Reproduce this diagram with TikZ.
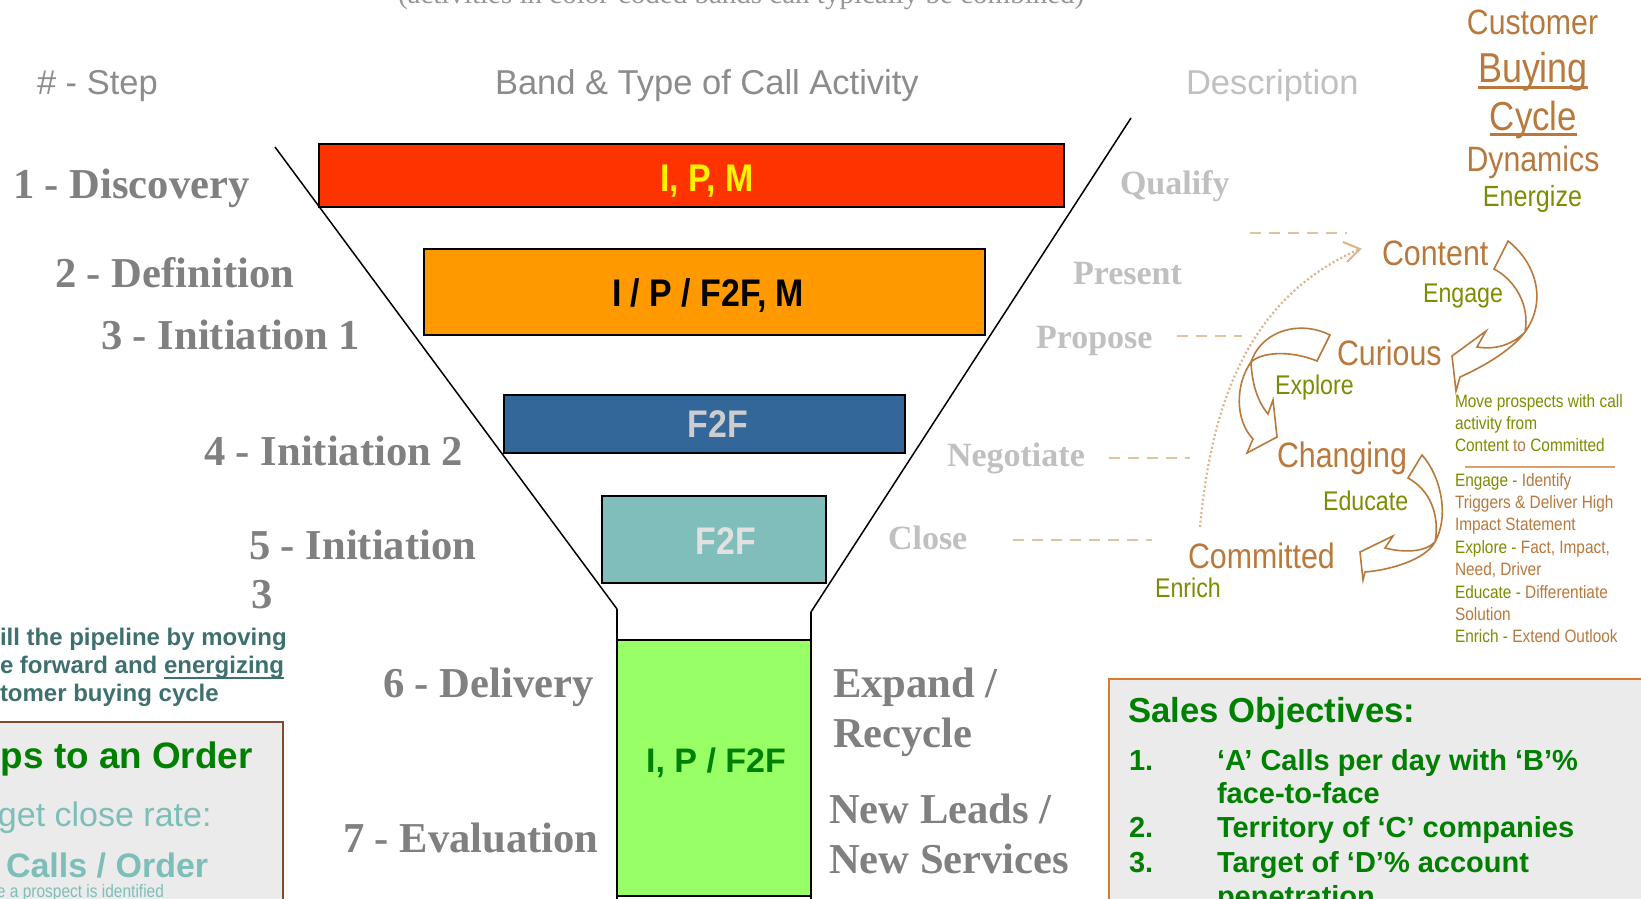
\documentclass[tikz,border=0pt]{standalone}
\usepackage{fontspec}
\setmainfont{Liberation Serif}
\newfontfamily\arial{Liberation Sans}
\newfontfamily\narrow[FakeStretch=0.86]{Liberation Sans}
\newfontfamily\barfont[FakeStretch=0.88]{Liberation Sans}
\newcommand\fsz[1]{\fontsize{#1}{#1}\selectfont}
\definecolor{stepgray}{RGB}{128,128,128}
\definecolor{descgray}{RGB}{192,192,192}
\definecolor{hdrgray}{RGB}{140,140,140}
\definecolor{topgray}{RGB}{150,150,150}
\definecolor{barred}{RGB}{255,51,0}
\definecolor{barorange}{RGB}{255,153,0}
\definecolor{barblue}{RGB}{51,102,153}
\definecolor{barteal}{RGB}{128,190,188}
\definecolor{bargreen}{RGB}{153,255,102}
\definecolor{f2fgray}{RGB}{205,205,205}
\definecolor{f2flight}{RGB}{225,225,225}
\definecolor{dkgreen}{RGB}{0,128,0}
\definecolor{cybrown}{RGB}{185,120,60}
\definecolor{cyolive}{RGB}{125,140,0}
\definecolor{tandash}{RGB}{222,196,160}
\definecolor{tandot}{RGB}{220,180,140}
\definecolor{seprule}{RGB}{215,160,110}
\definecolor{pipeteal}{RGB}{62,112,112}
\definecolor{boxteal}{RGB}{125,190,185}
\definecolor{boxgray}{RGB}{235,235,235}
\definecolor{boxbrown}{RGB}{125,75,45}
\definecolor{boxorange}{RGB}{215,125,50}
\tikzset{
  lbl/.style={inner sep=0pt, outer sep=0pt, anchor=base west},
  clbl/.style={inner sep=0pt, outer sep=0pt, anchor=base},
  steplbl/.style={lbl, font=\fsz{42.6}\bfseries, text=stepgray},
  desclbl/.style={lbl, font=\fsz{34}\bfseries, text=descgray},
  hdr/.style={lbl, font=\arial\fsz{34.5}},
  bandbox/.style={draw=black, line width=2pt, inner sep=0pt, outer sep=0pt, anchor=north west},
  bartxt/.style={clbl, font=\barfont\bfseries\fsz{38.5}},
  cytitle/.style={clbl, font=\narrow\fsz{35.2}, text=cybrown},
  cystate/.style={lbl, font=\narrow\fsz{35.3}, text=cybrown},
  cysub/.style={lbl, font=\narrow\fsz{27}, text=cyolive},
  note/.style={lbl, font=\narrow\fsz{17.9}, text=cybrown},
  tanline/.style={draw=tandash, line width=2pt, dash pattern=on 11pt off 8pt},
  cyarrow/.style={draw=cybrown, line width=1.6pt, fill=white, line join=miter},
  funnel/.style={draw=black, line width=1.5pt},
  funnelv/.style={draw=black, line width=2.8pt},
  pipe/.style={lbl, font=\arial\bfseries\fsz{24}, text=pipeteal},
  objtxt/.style={lbl, font=\arial\bfseries\fsz{29}, text=dkgreen},
}
\begin{document}
\begin{tikzpicture}[x=1pt,y=-1pt]
\clip (0,0) rectangle (1641,899);
\fill[white] (0,0) rectangle (1641,899);

% top cut-off note
\node[lbl, font=\fsz{29}, text=topgray] (combined) at (398,3.5) {(activities in color-coded bands can typically be combined)};

% headers
\node[hdr, text=hdrgray] (hstep) at (37,95) {\# - Step};
\node[hdr, text=hdrgray] (hband) at (495,95) {Band \& Type of Call Activity};
\node[hdr, text=descgray] (hdesc) at (1186,95) {Description};

% bands
\node[bandbox, fill=barred, minimum width=745pt, minimum height=63pt] (bred) at (319,144) {};
\node[bandbox, fill=barorange, minimum width=561pt, minimum height=86pt] (borange) at (424,249) {};
\node[bandbox, fill=barblue, minimum width=401pt, minimum height=58pt] (bblue) at (504,395) {};
\node[bandbox, fill=barteal, minimum width=224pt, minimum height=87pt] (bteal) at (602,496) {};
\node[bandbox, line width=1.2pt, fill=bargreen, minimum width=194pt, minimum height=256pt] (bgreen) at (617,640) {};

\node[bartxt, text=yellow] (tred) at (707,191) {I, P, M};
\node[bartxt, text=black] (torange) at (708,306.5) {I / P / F2F, M};
\node[bartxt, text=f2fgray] (tblue) at (718,437) {F2F};
\node[bartxt, text=f2flight] (tteal) at (726,554.5) {F2F};
\node[clbl, font=\arial\bfseries\fsz{34}, text=dkgreen] (tgreen) at (716,772) {I, P / F2F};

% funnel outline
\coordinate (fl1) at (275,147);
\coordinate (fl2) at (617,609);
\coordinate (fl3) at (617,905);
\coordinate (fr1) at (1131,118);
\coordinate (fr2) at (811,612);
\coordinate (fr3) at (811,905);
\draw[funnel] (fl1) -- (fl2);
\draw[funnelv] (fl2) -- (fl3);
\draw[funnel] (fr1) -- (fr2);
\draw[funnelv] (fr2) -- (fr3);

% step labels
\node[steplbl] (s1) at (13,198) {1 - Discovery};
\node[steplbl] (s2) at (55,287) {2 - Definition};
\node[steplbl] (s3) at (101,349) {3 - Initiation 1};
\node[steplbl] (s4) at (204,465) {4 - Initiation 2};
\node[steplbl] (s5) at (249,559) {5 - Initiation};
\node[steplbl] (s5b) at (251,608) {3};
\node[steplbl] (s6) at (383,697) {6 - Delivery};
\node[steplbl] (s7) at (343,852) {7 - Evaluation};

% description labels
\node[desclbl] (dqual) at (1120,194) {Qualify};
\node[desclbl] (dpres) at (1073,284) {Present};
\node[desclbl] (dprop) at (1036,348) {Propose};
\node[desclbl] (dnego) at (947,466) {Negotiate};
\node[desclbl] (dclose) at (888,549) {Close};
\node[steplbl] (dexp) at (833,697) {Expand /};
\node[steplbl] (drec) at (833,747) {Recycle};
\node[steplbl] (dnew) at (829,823) {New Leads /};
\node[steplbl] (dserv) at (829,873) {New Services};

% dashed leaders
\coordinate (q1) at (1250,233); \coordinate (q2) at (1347,233);
\coordinate (p1) at (1177,336); \coordinate (p2) at (1242,336);
\coordinate (n1) at (1109,458); \coordinate (n2) at (1190,458);
\coordinate (c1) at (1013,540); \coordinate (c2) at (1152,540);
\draw[tanline] (q1) -- (q2);
\draw[tanline] (p1) -- (p2);
\draw[tanline] (n1) -- (n2);
\draw[tanline] (c1) -- (c2);

% dotted return arrow
\coordinate (dots) at (1200,527);
\coordinate (dote) at (1360,249);
\coordinate (dah1) at (1343,242);
\coordinate (dah2) at (1347,262);
\draw[draw=tandot, line width=2.2pt, dash pattern=on 2pt off 2.4pt] (dots) .. controls (1210,420) and (1240,300) .. (dote);
\draw[draw=tandot, line width=2pt] (dah1) -- (dote) -- (dah2);

% cycle title
\node[cytitle] (cust) at (1532.5,35) {Customer};
\node[cytitle, font=\narrow\fsz{41.8}] (buying) at (1533,82) {Buying};
\node[cytitle, font=\narrow\fsz{40.5}] (cycle) at (1533.5,130) {Cycle};
\node[cytitle] (dyn) at (1533,171) {Dynamics};
\node[cytitle, font=\narrow\fsz{29.2}, text=cyolive] (energ) at (1532.5,206) {Energize};
\draw[cybrown, line width=3pt] ([yshift=-5pt]buying.base west) -- ([yshift=-5pt]buying.base east);
\draw[cybrown, line width=3pt] ([yshift=-4.5pt]cycle.base west) -- ([yshift=-4.5pt]cycle.base east);

% curved block arrows
\draw[cyarrow] (1508,241) .. controls (1535,262) and (1548,300) .. (1525,332)
  .. controls (1512,345) and (1495,350) .. (1477,347) -- (1486,331) -- (1452,356) -- (1456,391) -- (1460,377)
  .. controls (1480,368) and (1510,352) .. (1525,332)
  .. controls (1530,305) and (1515,280) .. (1494,269) -- cycle;
\draw[cyarrow] (1330,335) .. controls (1300,320) and (1262,330) .. (1251,362)
  .. controls (1252,385) and (1258,402) .. (1268,414) -- (1273,400) -- (1277,437) -- (1247,453) -- (1253,439)
  .. controls (1235,420) and (1235,385) .. (1251,362)
  .. controls (1262,352) and (1290,350) .. (1317,361) -- cycle;
\draw[cyarrow] (1422,455) .. controls (1440,475) and (1450,515) .. (1435,542)
  .. controls (1425,552) and (1405,553) .. (1385,548) -- (1393,536) -- (1360,552) -- (1363,580) -- (1365,572)
  .. controls (1390,570) and (1425,560) .. (1435,542)
  .. controls (1440,515) and (1430,490) .. (1408,478) -- cycle;

% cycle states
\node[cystate] (content) at (1382,265) {Content};
\node[cysub] (engage) at (1423,302) {Engage};
\node[cystate] (curious) at (1337,365) {Curious};
\node[cysub] (explore) at (1275,394) {Explore};
\node[cystate] (changing) at (1277,467) {Changing};
\node[cysub] (educate) at (1323,510) {Educate};
\node[cystate] (committed) at (1188,568) {Committed};
\node[cysub] (enrich) at (1155,597) {Enrich};

% notes
\node[note, text=cyolive] (n01) at (1455,407) {Move prospects with call};
\node[note, text=cyolive] (n02) at (1455,429) {activity from};
\node[note] (n03) at (1455,451) {{\color{cyolive}Content} to {\color{cyolive}Committed}};
\coordinate (sep1) at (1465,467); \coordinate (sep2) at (1615,467);
\draw[seprule, line width=1.5pt] (sep1) -- (sep2);
\node[note] (n04) at (1455,486) {{\color{cyolive}Engage - }Identify};
\node[note] (n05) at (1455,508) {Triggers \& Deliver High};
\node[note] (n06) at (1455,530) {Impact Statement};
\node[note] (n07) at (1455,553) {{\color{cyolive}Explore - }Fact, Impact,};
\node[note] (n08) at (1455,575) {Need, Driver};
\node[note] (n09) at (1455,598) {{\color{cyolive}Educate - }Differentiate};
\node[note] (n10) at (1455,620) {Solution};
\node[note] (n11) at (1455,642) {{\color{cyolive}Enrich - }Extend Outlook};

% left pipeline text
\node[pipe] (pipe1) at (0,645) {ill the pipeline by moving};
\node[pipe] (pipe2) at (0,673) {e forward and};
\node[pipe] (pipe2b) at (164,673) {energizing};
\node[pipe] (pipe3) at (0,701) {tomer buying cycle};
\draw[pipeteal, line width=2pt] ([yshift=-5pt]pipe2b.base west) -- ([yshift=-5pt]pipe2b.base east);

% left box
\coordinate (lb1) at (-20,722); \coordinate (lb2) at (283,930);
\draw[fill=boxgray, draw=boxbrown, line width=2pt] (lb1) rectangle (lb2);
\node[lbl, font=\arial\bfseries\fsz{36.8}, text=dkgreen] (order) at (1,768) {ps to an Order};
\node[lbl, font=\arial\fsz{34}, text=boxteal] (rate) at (-2,826) {get close rate:};
\node[lbl, font=\arial\bfseries\fsz{34}, text=boxteal] (calls) at (6,877) {Calls / Order};
\node[lbl, font=\narrow\fsz{18}, text=boxteal] (ident) at (-3,897) {e a prospect is identified};

% right box
\coordinate (rb1) at (1109,679); \coordinate (rb2) at (1660,930);
\draw[fill=boxgray, draw=boxorange, line width=2pt] (rb1) rectangle (rb2);
\node[lbl, font=\arial\bfseries\fsz{34.7}, text=dkgreen] (sobj) at (1128,722) {Sales Objectives:};
\node[objtxt] (o1n) at (1129,770) {1.};
\node[objtxt] (o1) at (1217,770) {‘A’ Calls per day with ‘B’\%};
\node[objtxt] (o1b) at (1217,803) {face-to-face};
\node[objtxt] (o2n) at (1129,837) {2.};
\node[objtxt] (o2) at (1217,837) {Territory of ‘C’ companies};
\node[objtxt] (o3n) at (1129,872) {3.};
\node[objtxt] (o3) at (1217,872) {Target of ‘D’\% account};
\node[objtxt] (o3b) at (1217,906) {penetration};
\end{tikzpicture}
\end{document}
